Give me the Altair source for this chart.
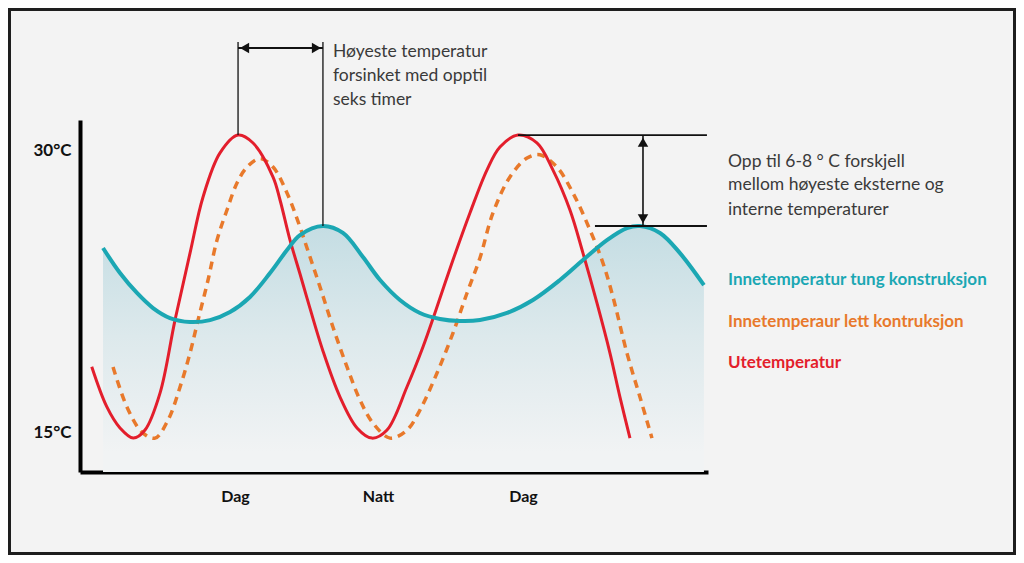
import altair as alt
import pandas as pd

FONT = "Lato"

# ---- series (x = hours along the axis, y = °C) ----
red_h = [1.01, 2.30, 3.44, 4.58, 5.59, 6.88, 8.17, 9.46, 10.58, 12.04, 13.59, 14.88, 16.60, 17.20, 18.06, 18.92,
         19.52, 20.89, 22.36, 23.82, 25.11, 26.40, 28.12, 29.49, 30.52, 32.07, 33.53, 34.99, 36.11, 37.66, 39.29,
         40.67, 42.13, 43.25, 44.45, 45.57, 46.43, 47.29]
red_t = [18.49, 16.37, 15.24, 14.70, 15.13, 17.09, 20.97, 24.53, 27.51, 29.85, 30.80, 30.38, 28.57, 27.35, 25.22, 23.42,
         22.14, 19.33, 16.88, 15.24, 14.70, 15.13, 17.43, 19.54, 21.35, 24.16, 26.66, 28.94, 30.17, 30.80, 30.38,
         28.94, 26.82, 24.53, 21.88, 19.22, 16.88, 14.70]

orange_h = [2.84, 4.04, 5.33, 6.45, 7.57, 8.60, 9.46, 10.15, 11.01, 11.78, 12.64, 13.50, 14.36, 15.48, 16.60, 17.80,
            18.92, 19.52, 20.64, 21.75, 22.96, 24.08, 25.19, 26.66, 28.12, 29.23, 30.70, 32.07, 33.28, 34.39, 35.51,
            36.97, 38.44, 39.55, 41.01, 42.39, 43.85, 44.97, 45.83, 47.03, 48.15, 49.18]
orange_t = [18.48, 16.35, 15.02, 14.70, 15.66, 17.41, 19.22, 20.97, 23.10, 25.22, 26.82, 28.25, 29.10, 29.55, 29.10, 27.72,
            25.91, 24.80, 22.73, 20.60, 18.48, 16.72, 15.50, 14.70, 15.13, 16.19, 18.16, 20.28, 22.41, 24.27, 26.66,
            28.57, 29.58, 29.75, 29.10, 27.72, 25.76, 24.00, 22.20, 19.22, 16.88, 14.70]

teal_h = [1.98, 3.44, 4.90, 6.28, 7.74, 9.46, 11.18, 12.90, 14.62, 16.34, 17.80, 18.92, 20.89, 22.61, 24.33, 25.80,
          27.51, 29.23, 30.95, 32.67, 34.39, 36.72, 38.95, 41.27, 43.25, 45.31, 47.03, 48.15, 49.87, 51.59, 53.65]
teal_t = [24.80, 23.47, 22.41, 21.61, 21.08, 20.87, 20.97, 21.40, 22.20, 23.47, 24.69, 25.49, 25.97, 25.60, 24.32, 23.10,
          22.04, 21.35, 21.03, 20.92, 20.97, 21.35, 22.04, 23.10, 24.16, 25.22, 25.86, 25.97, 25.60, 24.53, 22.83]

# ---- axes ----
x_domain = [0, 54]
y_domain = [12.9, 31.6]
y_tick_values = [15, 30]
x_tick_values = [13.33, 25.62, 38.09]
x_tick_labels = ["Dag", "Natt", "Dag"]

# ---- annotations ----
ann_lag_lines = ["Høyeste temperatur", "forsinket med opptil", "seks timer"]
ann_diff_lines = ["Opp til 6-8 ° C forskjell", "mellom høyeste eksterne og", "interne temperaturer"]
legend_labels = ["Innetemperatur tung konstruksjon", "Innetemperaur lett kontruksjon", "Utetemperatur"]
legend_colors = ["#1ba7b3", "#e8792b", "#e31e2c"]

RED, ORANGE, TEAL = "#e31e2c", "#e8792b", "#1ba7b3"
INTERP = "catmull-rom"

xs = alt.Scale(domain=x_domain, nice=False, zero=False)
ys = alt.Scale(domain=y_domain, nice=False, zero=False)

red_df = pd.DataFrame({"h": red_h, "t": red_t})
orange_df = pd.DataFrame({"h": orange_h, "t": orange_t})
teal_df = pd.DataFrame({"h": teal_h, "t": teal_t, "base": [y_domain[0]] * len(teal_h)})

label_expr = " : ".join(
    f"abs(datum.value - {v}) < 0.5 ? '{l}'" for v, l in zip(x_tick_values, x_tick_labels)
) + " : ''"

x_enc = alt.X("h:Q", scale=xs, axis=alt.Axis(
    values=x_tick_values, labelExpr=label_expr, title=None, ticks=False, grid=False,
    domainColor="black", domainWidth=4, labelFont=FONT, labelFontSize=16,
    labelFontWeight="bold", labelColor="#111", labelPadding=16))
y_enc = alt.Y("t:Q", scale=ys, axis=alt.Axis(
    values=y_tick_values, labelExpr="datum.value + '°C'", title=None, ticks=False, grid=False,
    domainColor="black", domainWidth=4, labelFont=FONT, labelFontSize=17,
    labelFontWeight="bold", labelColor="#111", labelPadding=9))

grad = alt.Gradient(
    gradient="linear",
    stops=[alt.GradientStop(color="#c4dde3", offset=0),
           alt.GradientStop(color="#dde9ec", offset=0.45),
           alt.GradientStop(color="#f1f3f4", offset=0.92)],
    x1=1, x2=1, y1=0, y2=1)

area = alt.Chart(teal_df).mark_area(interpolate=INTERP, color=grad).encode(
    x=x_enc, y=y_enc, y2="base:Q")

orange_line = alt.Chart(orange_df).mark_line(
    interpolate=INTERP, color=ORANGE, strokeWidth=3.5, strokeDash=[8, 6]).encode(
    x=alt.X("h:Q", scale=xs), y=alt.Y("t:Q", scale=ys))
red_line = alt.Chart(red_df).mark_line(
    interpolate=INTERP, color=RED, strokeWidth=3).encode(
    x=alt.X("h:Q", scale=xs), y=alt.Y("t:Q", scale=ys))
teal_line = alt.Chart(teal_df).mark_line(
    interpolate=INTERP, color=TEAL, strokeWidth=4).encode(
    x=alt.X("h:Q", scale=xs), y=alt.Y("t:Q", scale=ys))

red_peak = (13.59, 30.80)
teal_peak = (20.89, 25.97)
red_peak2 = (37.66, 30.80)
teal_peak2 = (48.15, 25.97)
top_t = 35.74
arrow_t = 35.43
right_end = 53.91
diff_start2 = 44.28
diff_x = 48.41

seg_df = pd.DataFrame({
    "x": [red_peak[0], teal_peak[0], red_peak[0], red_peak2[0], diff_start2, diff_x],
    "x2": [red_peak[0], teal_peak[0], teal_peak[0], right_end, right_end, diff_x],
    "y": [red_peak[1], teal_peak[1], arrow_t, red_peak2[1], teal_peak2[1], red_peak2[1]],
    "y2": [top_t, top_t, arrow_t, red_peak2[1], teal_peak2[1], teal_peak2[1]],
    "w": [1.3, 1.3, 2, 1.8, 1.8, 1.6],
})
segs = alt.Chart(seg_df).mark_rule(color="#111").encode(
    x=alt.X("x:Q", scale=xs), x2="x2:Q", y=alt.Y("y:Q", scale=ys), y2="y2:Q",
    strokeWidth=alt.StrokeWidth("w:Q", scale=None))

head_df = pd.DataFrame({
    "x": [14.15, 20.33, diff_x, diff_x],
    "y": [arrow_t, arrow_t, 30.42, 26.35],
    "shape": ["triangle-left", "triangle-right", "triangle-up", "triangle-down"],
})
heads = alt.Chart(head_df).mark_point(filled=True, color="#111", size=110, opacity=1).encode(
    x=alt.X("x:Q", scale=xs), y=alt.Y("y:Q", scale=ys), shape=alt.Shape("shape:N", scale=None))

ann_df = pd.DataFrame({
    "x": [21.75] * 3 + [55.72] * 3,
    "y": [35.21, 33.94, 32.66, 29.38, 28.15, 26.82],
    "text": ann_lag_lines + ann_diff_lines,
})
ann = alt.Chart(ann_df).mark_text(
    align="left", baseline="middle", font=FONT, fontSize=17.5, color="#3a3a3a").encode(
    x=alt.X("x:Q", scale=xs), y=alt.Y("y:Q", scale=ys), text="text:N")

leg_df = pd.DataFrame({
    "x": [55.72] * 3,
    "y": [23.10, 20.87, 18.69],
    "text": legend_labels,
    "c": legend_colors,
})
leg = alt.Chart(leg_df).mark_text(
    align="left", baseline="middle", font=FONT, fontSize=17, fontWeight="bold").encode(
    x=alt.X("x:Q", scale=xs), y=alt.Y("y:Q", scale=ys), text="text:N",
    color=alt.Color("c:N", scale=None))

frame = alt.Chart(pd.DataFrame({"a": [0]})).mark_rect(
    filled=False, stroke="#1e1e1e", strokeWidth=3).encode(
    x=alt.value(-70.5), x2=alt.value(934.5), y=alt.value(-110.5), y2=alt.value(433.5))

chart = alt.layer(area, orange_line, red_line, teal_line, segs, heads, ann, leg, frame).properties(
    width=628, height=352,
    padding={"left": 72, "top": 112, "right": 308, "bottom": 83},
    autosize=alt.AutoSizeParams(type="none"),
    background="#f3f3f3",
).configure_view(stroke=None)

chart.save("out.html", embed_options={"renderer": "svg", "actions": False})
